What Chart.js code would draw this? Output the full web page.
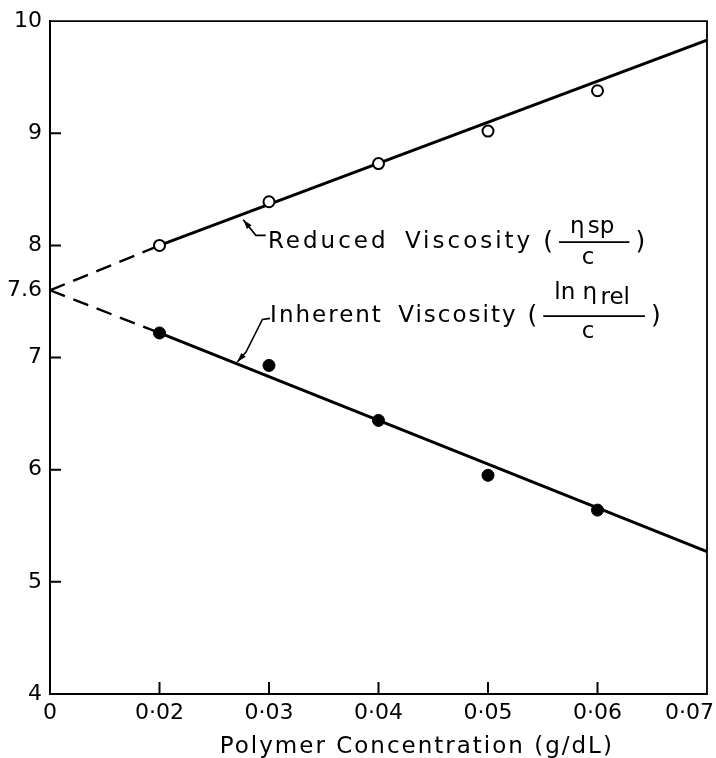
<!DOCTYPE html>
<html>
<head>
<meta charset="utf-8">
<script src="https://cdn.jsdelivr.net/npm/chart.js@4.4.0/dist/chart.umd.min.js"></script>
<style>
  html, body { margin: 0; padding: 0; background: #fff; }
</style>
</head>
<body>
<canvas id="chart" width="716" height="758"></canvas>
<script>
// measured points
const concentrations = [0.02, 0.03, 0.04, 0.05, 0.06];
const reducedVisc = [8.0, 8.39, 8.73, 9.02, 9.38];
const inherentVisc = [7.22, 6.93, 6.44, 5.95, 5.64];

// the x axis is broken: its left edge (labelled 0) sits one step before 0.02
const xTicks = [0.01, 0.02, 0.03, 0.04, 0.05, 0.06, 0.07];
const xTickLabels = ['0', '0·02', '0·03', '0·04', '0·05', '0·06', '0·07     '];
const yTicks = [4, 5, 6, 7, 7.6, 8, 9, 10];
const yTickLabels = ['4', '5', '6', '7', '7.6', '8', '9', '10'];

// fitted lines and their extrapolation to the intercept 7.6
const reducedFit = [[0.02, 8.0], [0.07, 9.83]];
const reducedExtrap = [[0.01, 7.6], [0.02, 8.0]];
const inherentFit = [[0.02, 7.22], [0.07, 5.27]];
const inherentExtrap = [[0.01, 7.6], [0.02, 7.22]];

const toXY = pairs => pairs.map(([x, y]) => ({ x, y }));
const ink = '#000';
const fontFamily = "'DejaVu Sans', 'Liberation Sans', sans-serif";

// labels drawn on the plot, anchored in data units
const notes = [
    {
        text: 'Reduced Viscosity',
        at: [0.0299, 8.03],
        leader: [[0.02765, 8.23], [0.0288, 8.09], [0.0297, 8.09]],
        num: ['η', 'sp'],
        numLift: 15, numDrop: 0, spacing: '3px'
    },
    {
        text: 'Inherent Viscosity',
        at: [0.0301, 7.37],
        leader: [[0.0271, 6.96], [0.0279, 7.05], [0.0294, 7.34], [0.0301, 7.35]],
        num: ['ln η', 'rel'],
        numLift: 23, numDrop: 5, spacing: '2px'
    }
];

const frameAndNotes = {
    id: 'frameAndNotes',
    afterDatasetsDraw(chart) {
        const { ctx, chartArea: a, scales: { x, y } } = chart;
        ctx.save();
        ctx.strokeStyle = ink;
        ctx.fillStyle = ink;

        // top and right of the frame
        ctx.lineWidth = 1.8;
        ctx.beginPath();
        ctx.moveTo(a.left, a.top);
        ctx.lineTo(a.right, a.top);
        ctx.lineTo(a.right, a.bottom);
        ctx.stroke();

        // inward tick marks
        ctx.lineWidth = 2;
        ctx.beginPath();
        [5, 6, 7, 8, 9].forEach(v => {
            const py = y.getPixelForValue(v);
            ctx.moveTo(a.left, py);
            ctx.lineTo(a.left + 11, py);
        });
        concentrations.forEach(v => {
            const px = x.getPixelForValue(v);
            ctx.moveTo(px, a.bottom);
            ctx.lineTo(px, a.bottom - 12);
        });
        ctx.stroke();

        // notes with leaders
        notes.forEach(n => {
            const pts = n.leader.map(([vx, vy]) => [x.getPixelForValue(vx), y.getPixelForValue(vy)]);
            ctx.lineWidth = 1.6;
            ctx.beginPath();
            pts.forEach(([px, py], i) => i ? ctx.lineTo(px, py) : ctx.moveTo(px, py));
            ctx.stroke();
            // arrow head at the line end
            const [tx, ty] = pts[0], [bx, by] = pts[1];
            const ang = Math.atan2(ty - by, tx - bx);
            ctx.beginPath();
            ctx.moveTo(tx, ty);
            ctx.lineTo(tx - 10 * Math.cos(ang - 0.3), ty - 10 * Math.sin(ang - 0.3));
            ctx.lineTo(tx - 10 * Math.cos(ang + 0.3), ty - 10 * Math.sin(ang + 0.3));
            ctx.closePath();
            ctx.fill();

            let cx = x.getPixelForValue(n.at[0]);
            const cy = y.getPixelForValue(n.at[1]);
            ctx.font = '23px ' + fontFamily;
            ctx.letterSpacing = n.spacing;
            ctx.wordSpacing = '6px';
            ctx.textBaseline = 'middle';
            ctx.textAlign = 'left';
            ctx.fillText(n.text, cx, cy);
            cx += ctx.measureText(n.text).width + 10;
            ctx.letterSpacing = '0px';
            ctx.wordSpacing = '0px';
            ctx.font = '25px ' + fontFamily;
            ctx.fillText('(', cx, cy);
            cx += ctx.measureText('(').width + 6;

            ctx.font = '23px ' + fontFamily;
            const w1 = ctx.measureText(n.num[0] + ' ').width;
            const w2 = ctx.measureText(n.num[1]).width;
            const nw = w1 + w2;
            const lw = nw + 22;
            ctx.lineWidth = 1.8;
            ctx.beginPath();
            ctx.moveTo(cx, cy);
            ctx.lineTo(cx + lw, cy);
            ctx.stroke();
            const nx = cx + (lw - nw) / 2;
            ctx.fillText(n.num[0], nx, cy - n.numLift);
            ctx.fillText(n.num[1], nx + w1 - 4, cy - n.numLift + n.numDrop);
            ctx.textAlign = 'center';
            ctx.fillText('c', cx + lw / 2 - 6, cy + 16);
            ctx.textAlign = 'left';
            cx += lw + 6;
            ctx.font = '25px ' + fontFamily;
            ctx.fillText(')', cx, cy);
        });

        // axis title
        ctx.font = '23px ' + fontFamily;
        ctx.letterSpacing = '2px';
        ctx.textAlign = 'center';
        ctx.textBaseline = 'middle';
        ctx.fillText('Polymer Concentration (g/dL)', x.getPixelForValue(0.0435), a.bottom + 53);
        ctx.restore();
    }
};

Chart.defaults.font.family = fontFamily;
Chart.defaults.color = ink;

new Chart(document.getElementById('chart').getContext('2d'), {
    type: 'scatter',
    data: {
        datasets: [
            {
                label: 'Reduced Viscosity',
                data: concentrations.map((c, i) => ({ x: c, y: reducedVisc[i] })),
                pointRadius: 5.5,
                pointBackgroundColor: '#fff',
                pointBorderColor: ink,
                pointBorderWidth: 2,
                order: 0
            },
            {
                label: 'Inherent Viscosity',
                data: concentrations.map((c, i) => ({ x: c, y: inherentVisc[i] })),
                pointRadius: 6,
                pointBackgroundColor: ink,
                pointBorderColor: ink,
                pointBorderWidth: 1,
                order: 0
            },
            { data: toXY(reducedFit), showLine: true, borderColor: ink, borderWidth: 3, pointRadius: 0, order: 1 },
            { data: toXY(reducedExtrap), showLine: true, borderColor: ink, borderWidth: 2.4, borderDash: [16, 9], pointRadius: 0, order: 1 },
            { data: toXY(inherentFit), showLine: true, borderColor: ink, borderWidth: 3, pointRadius: 0, order: 1 },
            { data: toXY(inherentExtrap), showLine: true, borderColor: ink, borderWidth: 2.4, borderDash: [16, 9], pointRadius: 0, order: 1 }
        ]
    },
    options: {
        responsive: false,
        animation: false,
        layout: { padding: { top: 17, right: 9, left: 0, bottom: 0 } },
        plugins: { legend: { display: false }, tooltip: { enabled: false } },
        scales: {
            x: {
                type: 'linear',
                min: 0.01,
                max: 0.07,
                afterBuildTicks: s => { s.ticks = xTicks.map(v => ({ value: v })); },
                afterFit: s => { s.height = 64; s.paddingLeft = 0; s.paddingRight = 0; },
                ticks: {
                    autoSkip: false,
                    maxRotation: 0,
                    padding: 6,
                    font: { size: 22 },
                    callback: (v, i) => xTickLabels[i]
                },
                grid: { display: false, drawTicks: false },
                border: { display: true, color: ink, width: 2 }
            },
            y: {
                min: 4,
                max: 10,
                afterBuildTicks: s => { s.ticks = yTicks.map(v => ({ value: v })); },
                afterFit: s => { s.width = 50; },
                ticks: {
                    autoSkip: false,
                    padding: 8,
                    font: { size: 22 },
                    callback: (v, i) => yTickLabels[i]
                },
                grid: { display: false, drawTicks: false },
                border: { display: true, color: ink, width: 2 }
            }
        }
    },
    plugins: [frameAndNotes]
});
</script>
</body>
</html>
